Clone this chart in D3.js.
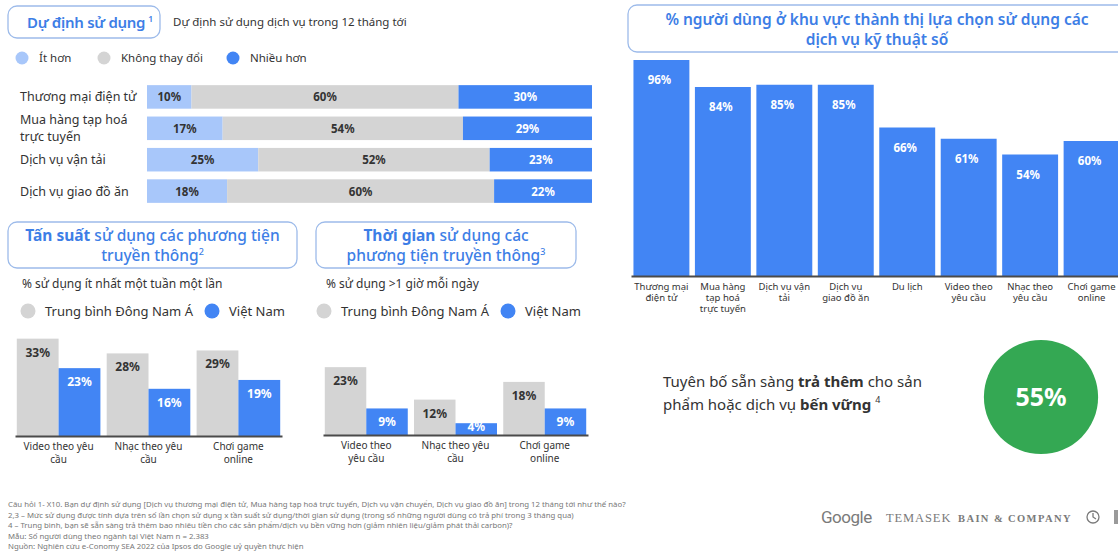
<!DOCTYPE html>
<html><head><meta charset="utf-8">
<script src="https://cdn.jsdelivr.net/npm/d3@7"></script>
<style>
html,body{margin:0;padding:0;background:#fff;overflow:hidden;}
svg{display:block;font-family:"Noto Sans",sans-serif;}
</style></head>
<body>
<svg id="c" width="1118" height="552"></svg>
<script>
// ---------------- DATA ----------------
const intentCats = ["Thương mại điện tử", "Mua hàng tạp hoá\ntrực tuyến", "Dịch vụ vận tải", "Dịch vụ giao đồ ăn"];
const intentLess = [10, 17, 25, 18];
const intentSame = [60, 54, 52, 60];
const intentMore = [30, 29, 23, 22];
const intentKeys = ["Ít hơn", "Không thay đổi", "Nhiều hơn"];

const freqCats = ["Video theo yêu\ncầu", "Nhạc theo yêu\ncầu", "Chơi game\nonline"];
const freqSEA = [33, 28, 29];
const freqVN = [23, 16, 19];

const timeCats = ["Video theo\nyêu cầu", "Nhạc theo yêu\ncầu", "Chơi game\nonline"];
const timeSEA = [23, 12, 18];
const timeVN = [9, 4, 9];

const mediaKeys = ["Trung bình Đông Nam Á", "Việt Nam"];

const digitalCats = ["Thương mại\nđiện tử", "Mua hàng\ntạp hoá\ntrực tuyến", "Dịch vụ vận\ntải", "Dịch vụ\ngiao đồ ăn", "Du lịch", "Video theo\nyêu cầu", "Nhạc theo\nyêu cầu", "Chơi game\nonline"];
const digitalVals = [96, 84, 85, 85, 66, 61, 54, 60];

const sustainValue = 55;

const footnotes = [
  "Câu hỏi 1- X10. Bạn dự định sử dụng [Dịch vụ thương mại điện tử, Mua hàng tạp hoá trực tuyến, Dịch vụ vận chuyển, Dịch vụ giao đồ ăn] trong 12 tháng tới như thế nào?",
  "2,3 – Mức sử dụng được tính dựa trên số lần chọn sử dụng x tần suất sử dụng/thời gian sử dụng (trong số những người dùng có trả phí trong 3 tháng qua)",
  "4 – Trung bình, bạn sẽ sẵn sàng trả thêm bao nhiêu tiền cho các sản phẩm/dịch vụ bền vững hơn (giảm nhiên liệu/giảm phát thải carbon)?",
  "Mẫu: Số người dùng theo ngành tại Việt Nam n = 2.383",
  "Nguồn: Nghiên cứu e-Conomy SEA 2022 của Ipsos do Google uỷ quyền thực hiện"
];

// ---------------- STYLE ----------------
const C = {
  blue: "#4285f4", light: "#a8c7fa", grey: "#d4d4d4", text: "#333",
  title: "#3d7ee6", box: "#9dbbea", axis: "#4a4a4a", green: "#34a853"
};

const svg = d3.select("#c");

function titleBox(x, y, w, h) {
  svg.append("rect").attr("x", x).attr("y", y).attr("width", w).attr("height", h)
    .attr("rx", 9).attr("fill", "#fff").attr("stroke", C.box).attr("stroke-width", 1.3);
}
function multiline(sel, str, lh) {
  str.split("\n").forEach((s, i) => sel.append("tspan").attr("x", sel.attr("x")).attr("dy", i ? lh : 0).text(s));
}

// ================= Section 1: stacked bars =================
titleBox(8, 6, 152, 32);
const t1 = svg.append("text").attr("x", 27).attr("y", 28).attr("fill", C.title)
  .attr("font-size", 15).attr("font-weight", 600).attr("letter-spacing", -0.3);
t1.append("tspan").text("Dự định sử dụng");
t1.append("tspan").attr("dy", -6).attr("dx", 3).attr("font-size", 8.5).text("1");
svg.append("text").attr("x", 173).attr("y", 26).attr("font-size", 11.5).attr("fill", C.text)
  .text("Dự định sử dụng dịch vụ trong 12 tháng tới");

const legend1X = [22, 104, 233];
const legendCols = [C.light, C.grey, C.blue];
intentKeys.forEach((k, i) => {
  svg.append("circle").attr("cx", legend1X[i]).attr("cy", 58).attr("r", 6.5).attr("fill", legendCols[i]);
  svg.append("text").attr("x", legend1X[i] + 17).attr("y", 62).attr("font-size", 11.5).attr("fill", C.text).text(k);
});

const rows = intentCats.map((c, i) => ({ cat: c, "Ít hơn": intentLess[i], "Không thay đổi": intentSame[i], "Nhiều hơn": intentMore[i] }));
const stack = d3.stack().keys(intentKeys)(rows);
const xS = d3.scaleLinear().domain([0, 100]).range([147, 592]);
const yS = d3.scaleBand().domain(intentCats).range([82, 206]).paddingInner(0.25).paddingOuter(0.1);
const colS = d3.scaleOrdinal().domain(intentKeys).range(legendCols);

stack.forEach(layer => {
  const g = svg.append("g");
  g.selectAll("rect").data(layer).join("rect")
    .attr("x", d => xS(d[0])).attr("width", d => xS(d[1]) - xS(d[0]))
    .attr("y", d => yS(d.data.cat)).attr("height", yS.bandwidth())
    .attr("fill", colS(layer.key));
  g.selectAll("text").data(layer).join("text")
    .attr("x", d => (xS(d[0]) + xS(d[1])) / 2)
    .attr("y", d => yS(d.data.cat) + yS.bandwidth() / 2 + 4.5)
    .attr("text-anchor", "middle").attr("font-size", 11.5).attr("font-weight", 700)
    .attr("fill", layer.key === "Nhiều hơn" ? "#fff" : C.text)
    .text(d => (d[1] - d[0]) + "%");
});
intentCats.forEach(c => {
  const lines = c.split("\n");
  const cy = yS(c) + yS.bandwidth() / 2;
  const t = svg.append("text").attr("x", 20).attr("y", cy + 4.5 - (lines.length - 1) * 8.5)
    .attr("font-size", 12.5).attr("fill", C.text);
  multiline(t, c, 17);
});

// ================= Grouped bar charts =================
function groupedChart(opts) {
  const { boxX, boxW, titleBold, titleRest, sup, sub, subX, legX, cats, sea, vn, range, base, perPct, legNames } = opts;
  titleBox(boxX, 222, boxW, 46);
  const cx = boxX + boxW / 2;
  const tt = svg.append("text").attr("text-anchor", "middle").attr("fill", C.title).attr("font-size", 15.5);
  tt.append("tspan").attr("x", cx).attr("y", 241).attr("font-weight", 700).text(titleBold);
  tt.append("tspan").attr("font-weight", 500).text(titleRest[0]);
  const l2 = svg.append("text").attr("text-anchor", "middle").attr("fill", C.title).attr("font-size", 15.5)
    .attr("font-weight", 500).attr("x", cx).attr("y", 261);
  l2.append("tspan").text(titleRest[1]);
  l2.append("tspan").attr("dy", -6).attr("font-size", 9).text(sup);

  svg.append("text").attr("x", subX).attr("y", 288).attr("font-size", 12).attr("fill", C.text).text(sub);
  legNames.forEach((k, i) => {
    const lx = i === 0 ? legX + 4 : legX + 188;
    svg.append("circle").attr("cx", lx).attr("cy", 311).attr("r", 7.5).attr("fill", i === 0 ? C.grey : C.blue);
    svg.append("text").attr("x", lx + 17).attr("y", 316).attr("font-size", 13).attr("fill", C.text).text(k);
  });

  const x0 = d3.scaleBand().domain(cats).range(range).paddingInner(0.07).paddingOuter(0.02);
  const x1 = d3.scaleBand().domain(["sea", "vn"]).range([0, x0.bandwidth()]);
  const y = d3.scaleLinear().domain([0, 10]).range([base, base - perPct * 10]);
  const data = cats.map((c, i) => ({ cat: c, vals: [{ k: "sea", v: sea[i] }, { k: "vn", v: vn[i] }] }));
  const g = svg.append("g");
  const grp = g.selectAll("g").data(data).join("g").attr("transform", d => `translate(${x0(d.cat)},0)`);
  grp.selectAll("rect").data(d => d.vals).join("rect")
    .attr("x", d => x1(d.k)).attr("width", x1.bandwidth())
    .attr("y", d => y(d.v)).attr("height", d => base - y(d.v))
    .attr("fill", d => d.k === "sea" ? C.grey : C.blue);
  grp.selectAll("text").data(d => d.vals).join("text")
    .attr("x", d => x1(d.k) + x1.bandwidth() / 2)
    .attr("y", d => Math.min(y(d.v) + 18, base - 4))
    .attr("text-anchor", "middle").attr("font-size", 12).attr("font-weight", 700)
    .attr("fill", d => d.k === "sea" ? C.text : "#fff")
    .text(d => d.v + "%");
  const ax = svg.append("g").attr("transform", `translate(0,${base})`)
    .call(d3.axisBottom(x0).tickSize(0).tickSizeOuter(0).tickFormat(""));
  ax.select(".domain").attr("stroke", C.axis).attr("stroke-width", 2);
  cats.forEach(c => {
    const t = svg.append("text").attr("x", x0(c) + x0.bandwidth() / 2).attr("y", base + 14)
      .attr("text-anchor", "middle").attr("font-size", 10).attr("fill", C.text);
    multiline(t, c, 12.5);
  });
}

groupedChart({
  boxX: 8, boxW: 289, titleBold: "Tấn suất", titleRest: [" sử dụng các phương tiện", "truyền thông"], sup: "2",
  sub: "% sử dụng ít nhất một tuần một lần", subX: 22, legX: 24, cats: freqCats, sea: freqSEA, vn: freqVN,
  range: [15, 282], base: 436, perPct: 2.95, legNames: mediaKeys
});
groupedChart({
  boxX: 316, boxW: 260, titleBold: "Thời gian", titleRest: [" sử dụng các", "phương tiện truyền thông"], sup: "3",
  sub: "% sử dụng >1 giờ mỗi ngày", subX: 326, legX: 320, cats: timeCats, sea: timeSEA, vn: timeVN,
  range: [323, 588], base: 435, perPct: 2.95, legNames: mediaKeys
});

// ================= Right chart =================
titleBox(628, 5, 500, 47);
svg.append("text").attr("x", 877).attr("y", 25).attr("text-anchor", "middle").attr("fill", C.title)
  .attr("font-size", 15.5).attr("font-weight", 600).text("% người dùng ở khu vực thành thị lựa chọn sử dụng các");
svg.append("text").attr("x", 877).attr("y", 45).attr("text-anchor", "middle").attr("fill", C.title)
  .attr("font-size", 15.5).attr("font-weight", 600).text("dịch vụ kỹ thuật số");

const xR = d3.scaleBand().domain(digitalCats).range([631, 1122]).paddingInner(0.09).paddingOuter(0.04);
const yR = d3.scaleLinear().domain([0, 100]).range([276, 51]);
const gR = svg.append("g");
gR.selectAll("rect").data(digitalCats).join("rect")
  .attr("x", d => xR(d)).attr("width", xR.bandwidth())
  .attr("y", (d, i) => yR(digitalVals[i])).attr("height", (d, i) => 276 - yR(digitalVals[i]))
  .attr("fill", C.blue);
gR.selectAll("text").data(digitalCats).join("text")
  .attr("x", d => xR(d) + xR.bandwidth() / 2 - 2)
  .attr("y", (d, i) => yR(digitalVals[i]) + 24)
  .attr("text-anchor", "middle").attr("font-size", 11.5).attr("font-weight", 700).attr("fill", "#fff")
  .text((d, i) => digitalVals[i] + "%");
const axR = svg.append("g").attr("transform", "translate(0,276)")
  .call(d3.axisBottom(xR).tickSize(0).tickSizeOuter(0).tickFormat(""));
axR.select(".domain").attr("stroke", C.axis).attr("stroke-width", 2);
digitalCats.forEach(c => {
  const t = svg.append("text").attr("x", xR(c) + xR.bandwidth() / 2).attr("y", 290)
    .attr("text-anchor", "middle").attr("font-size", 9.5).attr("fill", C.text);
  multiline(t, c, 11);
});

// ================= Sustainability =================
const s1 = svg.append("text").attr("x", 663).attr("y", 387).attr("font-size", 15).attr("fill", C.text);
s1.append("tspan").text("Tuyên bố sẵn sàng ");
s1.append("tspan").attr("font-weight", 700).text("trả thêm");
s1.append("tspan").text(" cho sản");
const s2 = svg.append("text").attr("x", 663).attr("y", 410).attr("font-size", 15).attr("fill", C.text);
s2.append("tspan").text("phẩm hoặc dịch vụ ");
s2.append("tspan").attr("font-weight", 700).text("bến vững");
s2.append("tspan").attr("dy", -7).attr("dx", 4).attr("font-size", 9).text("4");

const rS = d3.scaleSqrt().domain([0, 100]).range([0, 77]);
svg.append("circle").attr("cx", 1041).attr("cy", 397).attr("r", rS(sustainValue)).attr("fill", C.green);
svg.append("text").attr("x", 1041).attr("y", 406).attr("text-anchor", "middle").attr("fill", "#fff")
  .attr("font-size", 25).attr("font-weight", 700).text(sustainValue + "%");

// ================= Footer =================
footnotes.forEach((f, i) => {
  svg.append("text").attr("x", 8).attr("y", 507 + i * 10.5).attr("font-size", 7.8).attr("fill", "#777").text(f);
});
svg.append("text").attr("x", 821).attr("y", 523).attr("font-size", 17).attr("fill", "#7a7a7a")
  .attr("font-family", "Roboto, sans-serif").attr("letter-spacing", -0.5).text("Google");
svg.append("text").attr("x", 886).attr("y", 522).attr("font-size", 12.5).attr("fill", "#7a7a7a")
  .attr("font-family", "'Liberation Serif', serif").attr("letter-spacing", 0.9).text("TEMASEK");
svg.append("text").attr("x", 958).attr("y", 522).attr("font-size", 10.5).attr("fill", "#7a7a7a")
  .attr("font-family", "'Liberation Serif', serif").attr("font-weight", 700).attr("letter-spacing", 1.4).text("BAIN & COMPANY");
svg.append("circle").attr("cx", 1093).attr("cy", 517).attr("r", 6).attr("fill", "none").attr("stroke", "#7a7a7a").attr("stroke-width", 1.3);
svg.append("path").attr("d", "M1093,513 L1093,517 L1096,519").attr("fill", "none").attr("stroke", "#7a7a7a").attr("stroke-width", 1.3);
svg.append("rect").attr("x", 1114).attr("y", 510).attr("width", 4).attr("height", 14).attr("fill", "#9a9a9a");
</script>
</body></html>
